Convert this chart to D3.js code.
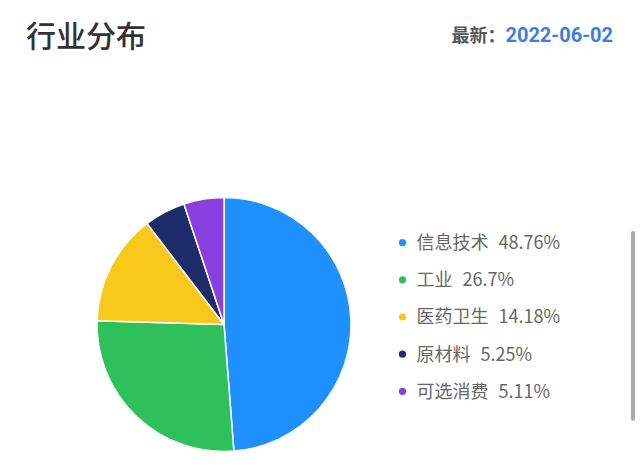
<!DOCTYPE html>
<html><head><meta charset="utf-8">
<script src="https://cdn.jsdelivr.net/npm/d3@7"></script>
<style>
html,body{margin:0;padding:0;background:#fff;}
svg{display:block;}
</style></head>
<body>
<svg id="c" width="640" height="473"></svg>
<script>
const categories = ["信息技术", "工业", "医药卫生", "原材料", "可选消费"];
const values = [48.76, 26.7, 14.18, 5.25, 5.11];
const valueLabels = ["48.76%", "26.7%", "14.18%", "5.25%", "5.11%"];
const colors = ["#1e90ff", "#2ec05a", "#f8c81a", "#1f2c6a", "#8a3fe0"];
const titleText = "行业分布";
const dateLabel = "最新：";
const dateText = "2022-06-02";

const svg = d3.select("#c");
const font = "'Noto Sans CJK SC', 'Noto Sans', sans-serif";

svg.append("text").attr("x", 26).attr("y", 47)
  .attr("font-family", font).attr("font-size", 30).attr("font-weight", 500)
  .attr("fill", "#333").text(titleText);

const hdr = svg.append("text").attr("x", 613).attr("y", 42).attr("text-anchor", "end")
  .attr("font-family", font).attr("font-weight", 700);
hdr.append("tspan").attr("font-size", 18).attr("fill", "#555").text(dateLabel);
hdr.append("tspan").attr("font-size", 20).attr("fill", "#3d7de0")
  .attr("font-family", "Roboto, 'Noto Sans', sans-serif").text(dateText);

const cx = 224, cy = 324.5, r = 127;
const pie = d3.pie().sort(null).value(d => d);
const arc = d3.arc().innerRadius(0).outerRadius(r);
const g = svg.append("g").attr("transform", `translate(${cx},${cy})`);
g.selectAll("path").data(pie(values)).join("path")
  .attr("d", arc).attr("fill", (d, i) => colors[i])
  .attr("stroke", "#fff").attr("stroke-width", 1.5).attr("stroke-linejoin", "round");

const y = d3.scalePoint().domain(categories).range([242.7, 391.3]);
const lg = svg.append("g");
const rows = lg.selectAll("g").data(categories).join("g")
  .attr("transform", d => `translate(0,${y(d)})`);
rows.append("circle").attr("cx", 402.5).attr("cy", 0).attr("r", 3.6)
  .attr("fill", (d, i) => colors[i]);
const t = rows.append("text").attr("x", 416.5).attr("y", 0).attr("dy", "0.36em")
  .attr("font-family", font).attr("font-size", 18).attr("fill", "#666");
t.append("tspan").text(d => d);
t.append("tspan").attr("dx", 10).text((d, i) => valueLabels[i]);

svg.append("rect").attr("x", 631).attr("y", 231).attr("width", 4).attr("height", 190)
  .attr("rx", 2).attr("fill", "#aaa");
</script>
</body></html>
